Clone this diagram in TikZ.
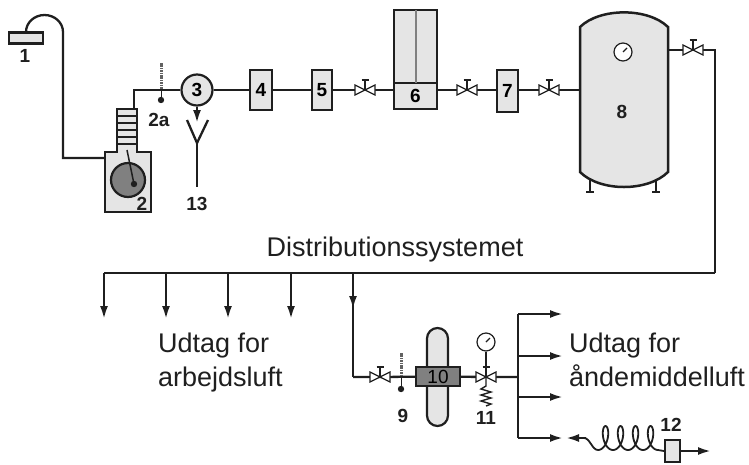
\documentclass[tikz,border=0pt]{standalone}
\usepackage{fontspec}
\setmainfont{Liberation Sans}
\usetikzlibrary{arrows.meta}
\definecolor{lightfill}{gray}{0.9}
\definecolor{darkfill}{gray}{0.5}
\definecolor{pipecol}{gray}{0.12}
\tikzset{
	pipe/.style={draw=pipecol,line width=2.3pt},
	outlet/.style={pipe,-{Latex[length=13pt,width=8pt]}},
	unitbox/.style={draw=pipecol,line width=2.2pt,fill=lightfill,inner sep=0pt,font=\bfseries\fontsize{19}{19}\selectfont},
	numlabel/.style={inner sep=0pt,font=\bfseries\fontsize{19}{19}\selectfont,text=pipecol},
	bigtext/.style={inner sep=0pt,align=left,font=\fontsize{27}{34}\selectfont,text=pipecol},
	gauge/.style={circle,draw=pipecol,line width=1.2pt,fill=white,minimum size=18pt,inner sep=0pt},
	stemline/.style={draw=pipecol!70,line width=3pt,dash pattern=on 1.6pt off 0.8pt},
	pics/valve/.style={code={
		\draw[line width=1.2pt,fill=white,draw=pipecol] (-10,-5)--(0,0)--(-10,5)--cycle;
		\draw[line width=1.2pt,fill=white,draw=pipecol] (10,-5)--(0,0)--(10,5)--cycle;
		\draw[line width=1.2pt,draw=pipecol] (0,0)--(0,-10) (-3.5,-10)--(3.5,-10);
	}},
}
\begin{document}
\begin{tikzpicture}[x=1pt,y=-1pt]
	\useasboundingbox (0,0) rectangle (749,464);
	% upper line
	\coordinate (compin) at (105,158);
	\coordinate (coolout) at (134,109);
	\coordinate (bend) at (134,90);
	\draw[pipe] (26,32) arc[start angle=180,end angle=360,x radius=18.5,y radius=17] -- (63,158) -- (compin);
	\node[unitbox,minimum width=34pt,minimum height=11pt] (intake) at (26,38) {};
	\node[numlabel] (lab1) at (25,56) {1};
	\node[unitbox,minimum width=46pt,minimum height=60pt] (comp) at (128,182) {};
	\node[unitbox,minimum width=20pt,minimum height=43pt] (cooler) at (127,130.5) {};
	\foreach \y in {116,123,130,137,144}
		\draw[line width=1.2pt,draw=pipecol] (117,\y)--(137,\y);
	\fill[lightfill] (118,150) rectangle (136,154);
	\draw[line width=2.2pt,draw=pipecol,fill=darkfill] (128,180) circle (17);
	\draw[line width=1.5pt,draw=pipecol] (127,150)--(134,184);
	\fill[pipecol] (134,184) circle (3.2);
	\node[numlabel] (lab2) at (142,204) {2};
	% thermometer 2a
	\coordinate (therm) at (161,90);
	\draw[stemline] (161,63)--(therm);
	\draw[line width=1pt,draw=pipecol] (therm)--(161,100);
	\fill[pipecol] (161,100) circle (3.2);
	\node[numlabel] (lab2a) at (159,120) {2a};
	\node[circle,draw=pipecol,line width=2.2pt,fill=lightfill,minimum size=31pt,inner sep=0pt,font=\bfseries\fontsize{19}{19}\selectfont] (sep) at (197,90) {3};
	\draw[pipe] (coolout)--(bend)--(sep);
	\coordinate (drain) at (197,123);
	\draw[outlet] (sep)--(drain);
	\coordinate (drainfoot) at (197,143);
	\draw[pipe] (187,120)--(drainfoot)--(208,120);
	\node[numlabel] (lab13) at (197,204) {13};
	\coordinate (drainend) at (197,187);
	\draw[pipe] (drainfoot)--(drainend);
	% units
	\node[unitbox,minimum width=22pt,minimum height=40pt] (dry) at (261,90) {4};
	\node[unitbox,minimum width=20pt,minimum height=40pt] (filt) at (322,90) {5};
	\node[unitbox,minimum width=43pt,minimum height=26pt] (ads) at (415.5,96) {6};
	\draw[draw=pipecol,line width=2.2pt,fill=lightfill] (394,83) rectangle (437,10);
	\draw[draw=darkfill,line width=2.4pt] (416,83)--(416,10);
	\node[unitbox,minimum width=21pt,minimum height=42pt] (aft) at (507.5,91) {7};
	\coordinate (va) at (365,90);
	\coordinate (vb) at (467,90);
	\coordinate (vc) at (549,90);
	\coordinate (tankin) at (580,90);
	\coordinate (tankout) at (668,50);
	\coordinate (vd) at (693,50);
	\coordinate (corner) at (715,50);
	\coordinate (netend) at (715,273);
	\draw[pipe] (sep)--(dry);
	\draw[pipe] (dry)--(filt);
	\draw[pipe] (filt)--(va)--(ads.west |- va);
	\draw[pipe] (ads.east |- vb)--(vb)--(aft.west |- vb);
	\draw[pipe] (aft.east |- vc)--(vc)--(tankin);
	\draw[pipe] (tankout)--(vd)--(corner)--(netend);
	\foreach \v in {va,vb,vc,vd}
		\pic at (\v) {valve};
	% tank
	\draw[draw=pipecol,line width=2.5pt,fill=lightfill] (580,27) .. controls (600,7.5) and (648,7.5) .. (668,27) -- (668,172) .. controls (648,192) and (600,192) .. (580,172) -- cycle;
	\draw[line width=1.5pt,draw=pipecol] (590,180)--(590,191) (656,180)--(656,191);
	\draw[line width=2pt,draw=pipecol] (586,191.5)--(594,191.5) (652,191.5)--(660,191.5);
	\node[gauge] (tankgauge) at (623,52) {};
	\draw[line width=1.2pt,draw=pipecol] (tankgauge.center)--++(4,-4);
	\node[numlabel] (lab8) at (622,112) {8};
	% distribution
	\node[bigtext] (dist) at (395,250) {Distributionssystemet};
	\node[bigtext,anchor=north west] (work) at (158,333) {Udtag for\\arbejdsluft};
	\node[bigtext,anchor=north west] (breath) at (569,333) {Udtag for\\åndemiddelluft};
	\coordinate (netleft) at (104,273);
	\draw[pipe] (netend)--(netleft);
	\foreach \x in {104,166,228,291}
		\draw[outlet] (\x,273)--(\x,319);
	\coordinate (branch) at (353,273);
	\coordinate (branchlow) at (353,377);
	\coordinate (ve) at (380,377);
	\coordinate (vf) at (486,377);
	\coordinate (hub) at (518,377);
	\draw[outlet] (branch)--(353,309);
	\draw[pipe] (353,305)--(branchlow);
	% breathing air unit
	\node[draw=pipecol,line width=2.2pt,fill=lightfill,rounded corners=10.5pt,minimum width=21pt,minimum height=98pt,inner sep=0pt] (caps) at (437.5,377) {};
	\node[unitbox,fill=darkfill,minimum width=44pt,minimum height=19pt,font=\fontsize{19}{19}\selectfont] (reg) at (438,376.5) {10};
	\draw[pipe] (branchlow)--(ve)--(reg);
	\draw[pipe] (reg)--(vf)--(hub);
	\pic at (ve) {valve};
	\draw[stemline] (401,353)--(401,377);
	\draw[line width=1pt,draw=pipecol] (401,377)--(401,389);
	\fill[pipecol] (401,389) circle (3.2);
	\node[numlabel] (lab9) at (403,416) {9};
	\node[gauge] (linegauge) at (486,342) {};
	\draw[line width=1.2pt,draw=pipecol] (linegauge.center)--++(4,-4);
	\draw[line width=1.2pt,draw=pipecol] (linegauge)--(vf);
	\pic at (vf) {valve};
	\draw[line width=1.4pt,draw=pipecol] (486,377)--(486,386)--(481,389)--(491,392)--(481,395)--(491,398)--(481,401)--(491,404)--(486,406);
	\node[numlabel] (lab11) at (486,418) {11};
	% outlets
	\coordinate (hubtop) at (518,314);
	\coordinate (hubend) at (518,438);
	\draw[pipe] (hubtop)--(hubend);
	\foreach \y in {314,356,397,438}
		\draw[outlet] (518,\y)--(563,\y);
	% hose with mask
	\node[unitbox,minimum width=15pt,minimum height=22pt] (mask) at (672.5,451) {};
	\node[numlabel] (lab12) at (671,425) {12};
	\coordinate (hoseend) at (566,438);
	\coordinate (maskout) at (711,451);
	\draw[outlet] (mask)--(maskout);
	\draw[pipe,line width=1.8pt] (mask.west) -- plot[smooth,samples=145,domain=1440:0] ({598+0.0417*\x+6*sin(\x)},{438+12*cos(\x)})
		.. controls (592,450) and (590,438) .. (584,438);
	\draw[outlet] (586,438)--(hoseend);
\end{tikzpicture}
\end{document}
